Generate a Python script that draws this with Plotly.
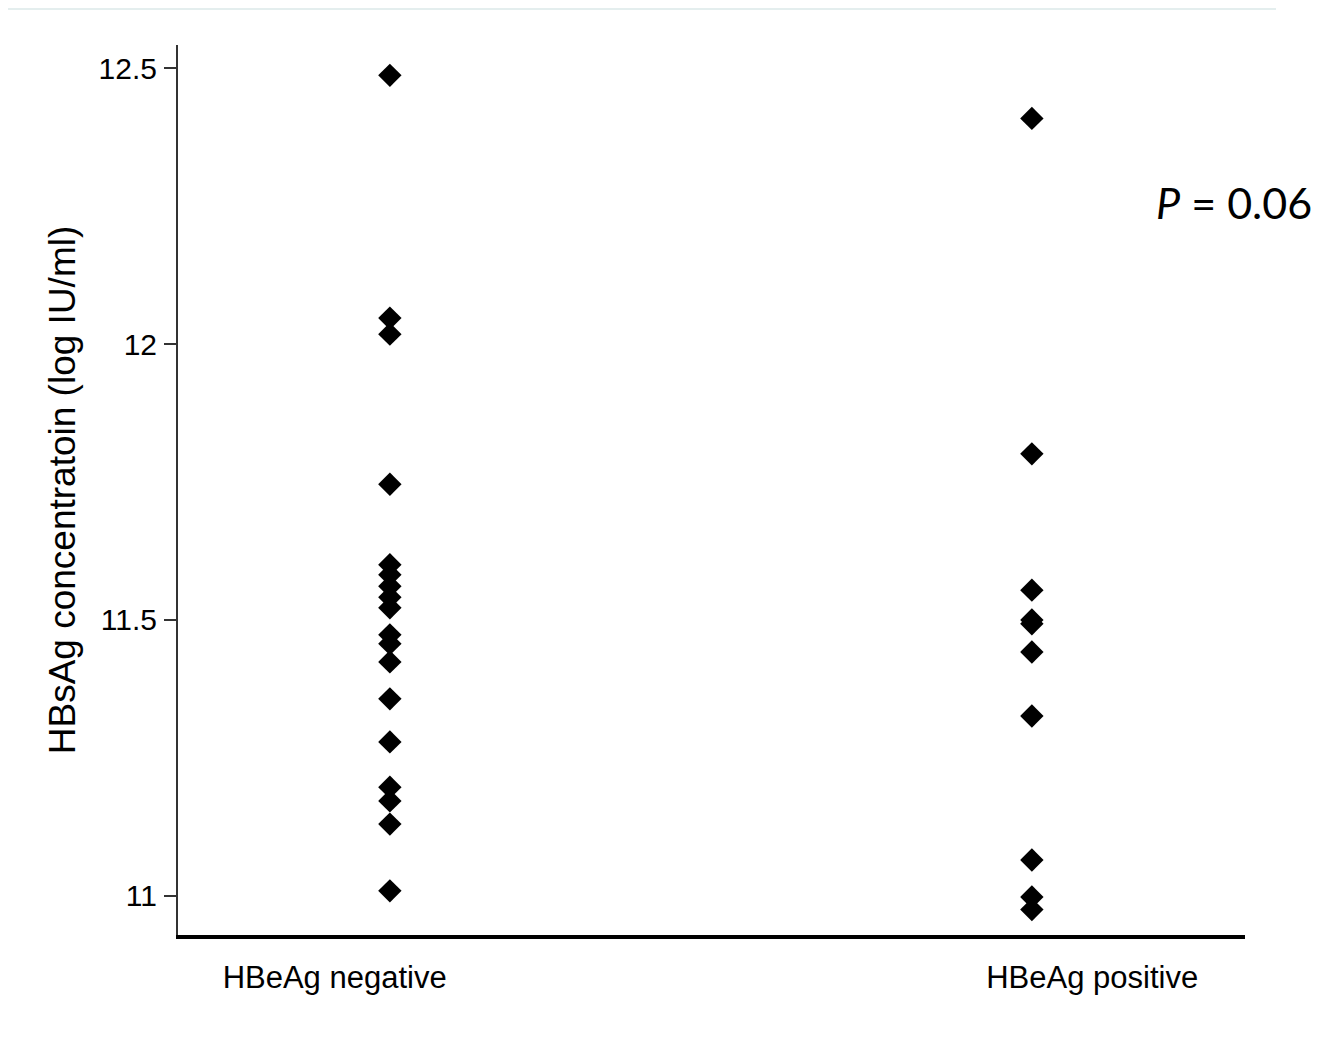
import plotly.graph_objects as go

categories = ["HBeAg negative", "HBeAg positive"]
cat_pos = [0, 1]
label_pos = [-0.086, 1.094]

negative_vals = [12.487, 12.047, 12.018, 11.746, 11.600, 11.582, 11.561, 11.541,
                 11.522, 11.473, 11.457, 11.424, 11.357, 11.279, 11.197, 11.172,
                 11.130, 11.009]
positive_vals = [12.409, 11.801, 11.554, 11.500, 11.493, 11.442, 11.326, 11.065,
                 10.998, 10.975]

y_ticks = [11, 11.5, 12, 12.5]
y_tick_text = ["11", "11.5", "12", "12.5"]
p_text = "<i>P</i> = 0.06"

fig = go.Figure()
for pos, vals in zip(cat_pos, [negative_vals, positive_vals]):
    fig.add_trace(go.Scatter(
        x=[pos] * len(vals), y=vals, mode="markers",
        marker=dict(symbol="diamond", size=18, color="black"),
        showlegend=False, cliponaxis=False))

fig.update_layout(
    width=1316, height=1041,
    margin=dict(l=170, r=79, t=37, b=114),
    paper_bgcolor="white", plot_bgcolor="white",
    font=dict(family="Liberation Sans, Arial, sans-serif", color="black"),
    xaxis=dict(range=[-0.330, 1.332], showgrid=False, zeroline=False,
               tickmode="array", tickvals=label_pos, ticktext=categories,
               ticks="", tickfont=dict(size=31),
               showline=True, linecolor="black", linewidth=4,
               ticklabelstandoff=12),
    yaxis=dict(range=[10.929, 12.542], showgrid=False, zeroline=False,
               tickmode="array", tickvals=y_ticks, ticktext=y_tick_text,
               ticks="outside", ticklen=12, tickwidth=2, tickcolor="#333",
               tickfont=dict(size=30),
               showline=True, linecolor="#333", linewidth=2,
               ticklabelstandoff=1,
               title=dict(text="HBsAg concentratoin (log IU/ml)",
                          font=dict(size=37), standoff=12)),
)

fig.add_annotation(x=0.9897, y=0.8225, xref="paper", yref="paper",
                   text=p_text, showarrow=False, xanchor="center", yanchor="middle",
                   font=dict(family="Lato, Carlito, Calibri, sans-serif", size=43, color="black"))

fig.add_shape(type="line", xref="paper", yref="paper",
              x0=-170/1067, x1=(1268-170)/1067, y0=926/890, y1=926/890,
              line=dict(color="#e4eeee", width=2))

fig.write_html("out.html")
